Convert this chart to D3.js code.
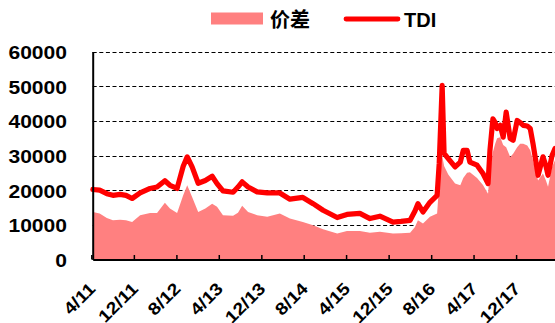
<!DOCTYPE html>
<html>
<head>
<meta charset="utf-8">
<script src="https://cdn.jsdelivr.net/npm/d3@7"></script>
<style>
  html, body { margin: 0; padding: 0; background: #fff; }
  svg { display: block; }
  text { font-family: "Liberation Sans", Arial, sans-serif; font-weight: bold; fill: #000; }
</style>
</head>
<body>
<svg id="chart" width="555" height="323"></svg>
<script>
// Observation dates (roughly one reading every few weeks)
const dates = [
  "2011-04-10","2011-05-19","2011-06-29","2011-08-03","2011-09-13","2011-10-17","2011-11-21",
  "2012-01-06","2012-03-03","2012-04-12","2012-05-27","2012-06-25","2012-08-05","2012-09-09",
  "2012-10-02","2012-10-30","2012-12-04","2013-01-14","2013-02-22","2013-03-22","2013-04-25",
  "2013-06-22","2013-07-20","2013-08-13","2013-09-16","2013-11-07","2014-01-04","2014-03-17",
  "2014-05-14","2014-07-27","2014-09-24","2014-11-20","2015-02-09","2015-04-06","2015-06-19",
  "2015-08-16","2015-10-12","2015-12-26","2016-02-10","2016-04-02","2016-04-30","2016-05-17",
  "2016-06-15","2016-07-25","2016-09-04","2016-09-16","2016-10-03","2016-10-14","2016-11-07",
  "2016-12-16","2017-01-15","2017-02-01","2017-02-23","2017-03-11","2017-04-21","2017-05-25",
  "2017-06-23","2017-07-04","2017-07-21","2017-08-03","2017-08-14","2017-09-01","2017-09-18",
  "2017-10-05","2017-10-28","2017-11-14","2017-12-07","2017-12-24","2018-01-11","2018-02-03",
  "2018-02-20","2018-03-08","2018-04-06","2018-05-04","2018-05-21","2018-06-02","2018-06-25",
  "2018-07-12"
];

// TDI index
const tdi = [
  20200,20000,19000,18500,18800,18500,17600,
  19200,20500,20900,22700,21400,20500,26900,
  29600,26700,22000,22800,24000,21900,19800,
  19400,20900,22400,20900,19500,19200,19200,
  17400,17900,16100,14200,12100,13000,13300,
  11800,12500,10800,11000,11300,14000,16100,
  13700,16500,18500,27700,50200,30600,29100,
  26700,28100,31500,31500,28100,27200,24800,
  21900,31500,40600,39500,37800,38700,35300,
  42500,34900,34400,40100,39500,38700,38500,
  37800,33400,24300,29600,27000,24300,30000,
  32000
];

// Price spread (价差)
const spread = [
  13700,13300,12000,11300,11500,11300,10800,
  12800,13400,13400,16400,14700,13400,18500,
  21400,18000,13700,14700,16100,15200,12800,
  12600,13500,15500,13700,12800,12300,13300,
  11800,10800,9900,8700,7500,8200,8200,
  7700,8000,7500,7600,7700,9400,11300,
  10400,12300,13300,22000,30000,27000,24500,
  21900,21400,23500,25000,25200,23500,21500,
  19000,25700,31000,33400,35000,35300,33000,
  32400,29600,30500,32400,33400,33400,32900,
  31500,28600,22800,24800,22800,21000,26700,
  28600
];

const yTicks = [0, 10000, 20000, 30000, 40000, 50000, 60000];
const xTickLabels = ["4/11","12/11","8/12","4/13","12/13","8/14","4/15","12/15","8/16","4/17","12/17"];
const legendLabels = ["价差", "TDI"];

const parse = d3.timeParse("%Y-%m-%d");
const rows = dates.map((d, i) => ({ date: parse(d), tdi: tdi[i], spread: spread[i] }));

const svg = d3.select("#chart");
const plot = { left: 92.7, right: 555, top: 51.5, bottom: 259.5 };

const x = d3.scaleTime()
  .domain([parse("2011-04-09"), parse("2018-07-12")])
  .range([plot.left, plot.right]);
const y = d3.scaleLinear()
  .domain([0, 60000])
  .range([plot.bottom, plot.top]);

// Tick dates: every eight months from April 2011
const tickDates = xTickLabels.map(s => {
  const [m, yy] = s.split("/").map(Number);
  return new Date(2000 + yy, m - 1, 1);
});

// Dashed horizontal gridlines
svg.append("g")
  .selectAll("line")
  .data(yTicks.filter(v => v > 0))
  .join("line")
  .attr("x1", plot.left).attr("x2", plot.right)
  .attr("y1", d => Math.round(y(d)) + 0.5).attr("y2", d => Math.round(y(d)) + 0.5)
  .attr("stroke", "#000")
  .attr("stroke-width", 1.2)
  .attr("stroke-dasharray", "4,2.6");

// Spread as filled area
svg.append("path")
  .datum(rows)
  .attr("fill", "#FF8080")
  .attr("d", d3.area()
    .x(d => x(d.date))
    .y0(y(0))
    .y1(d => y(d.spread)));

// TDI line
svg.append("path")
  .datum(rows)
  .attr("fill", "none")
  .attr("stroke", "#FF0000")
  .attr("stroke-width", 5.2)
  .attr("stroke-linejoin", "round")
  .attr("stroke-linecap", "round")
  .attr("d", d3.line()
    .x(d => x(d.date))
    .y(d => y(d.tdi)));

// X axis with inward ticks
const xAxis = svg.append("g")
  .attr("transform", `translate(0,${plot.bottom})`)
  .call(d3.axisBottom(x).tickValues(tickDates).tickSizeInner(-4.5).tickSizeOuter(0).tickFormat(""));
xAxis.select(".domain").attr("stroke", "#000").attr("stroke-width", 2);
xAxis.selectAll(".tick line").attr("stroke", "#000").attr("stroke-width", 1.5);

svg.append("g")
  .selectAll("text")
  .data(tickDates)
  .join("text")
  .attr("transform", (d, i) => `translate(${x(d) + 1},${plot.bottom + 26}) rotate(-45) scale(1.15,1)`)
  .attr("text-anchor", "end")
  .attr("dy", "0.35em")
  .style("font-size", "17px")
  .text((d, i) => xTickLabels[i]);

// Y axis
const yAxis = svg.append("g")
  .attr("transform", `translate(${plot.left},0)`)
  .call(d3.axisLeft(y).tickValues(yTicks).tickSize(0).tickFormat(""));
yAxis.select(".domain").attr("stroke", "#000").attr("stroke-width", 2);

svg.append("g")
  .selectAll("text")
  .data(yTicks)
  .join("text")
  .attr("transform", d => `translate(67,${y(d) + 1.3}) scale(1.17,1)`)
  .attr("text-anchor", "end")
  .attr("dy", "0.35em")
  .style("font-size", "18px")
  .text(d => d);

// Legend
const legend = svg.append("g");
legend.append("rect")
  .attr("x", 211).attr("y", 12.5).attr("width", 52).attr("height", 12)
  .attr("fill", "#FF8080");
legend.append("text")
  .attr("x", 270).attr("y", 26.5)
  .style("font-family", "'Noto Sans CJK SC', sans-serif")
  .style("font-size", "20px")
  .text(legendLabels[0]);
legend.append("line")
  .attr("x1", 346).attr("x2", 398).attr("y1", 19).attr("y2", 19)
  .attr("stroke", "#FF0000").attr("stroke-width", 4.8).attr("stroke-linecap", "round");
legend.append("text")
  .attr("x", 404).attr("y", 26.8)
  .style("font-size", "20px")
  .text(legendLabels[1]);
</script>
</body>
</html>
